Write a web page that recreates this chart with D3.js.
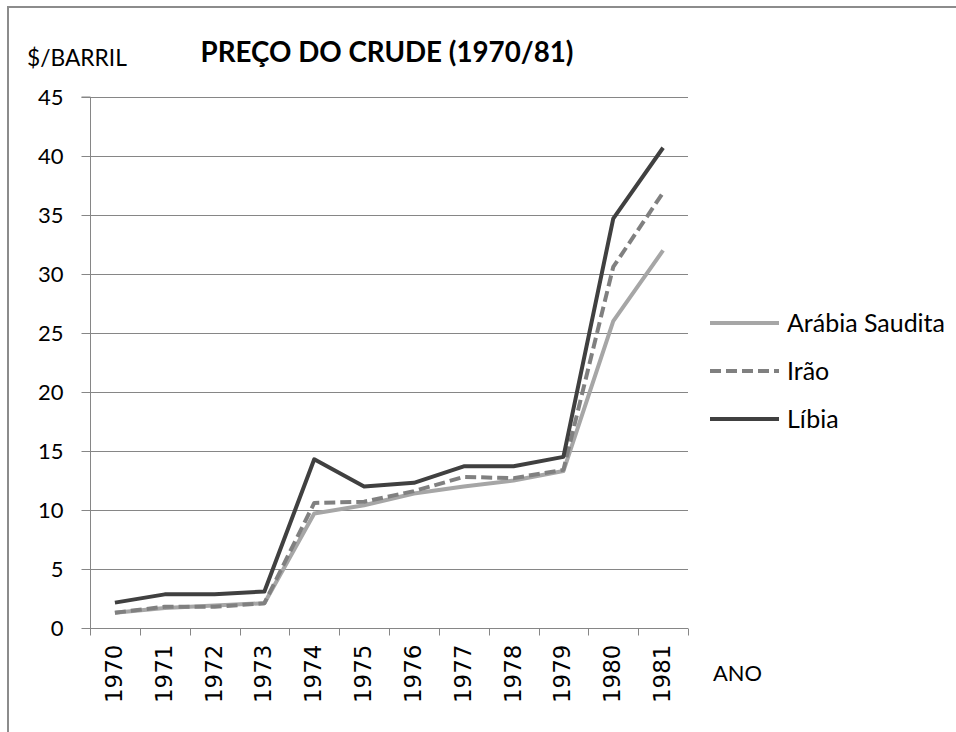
<!DOCTYPE html>
<html><head><meta charset="utf-8">
<script src="https://cdn.jsdelivr.net/npm/d3@7"></script>
<style>body{margin:0;background:#fff}svg{display:block}</style>
</head><body>
<svg id="c" width="956" height="732"></svg>
<script>
const years = ["1970","1971","1972","1973","1974","1975","1976","1977","1978","1979","1980","1981"];
const arabia = [1.3,1.7,1.9,2.1,9.7,10.4,11.4,12.0,12.5,13.3,26.0,32.0];
const irao   = [1.3,1.8,1.8,2.1,10.6,10.7,11.6,12.8,12.7,13.4,30.6,36.9];
const libia  = [2.15,2.85,2.85,3.1,14.3,12.0,12.3,13.7,13.7,14.5,34.7,40.7];
const seriesNames = ["Arábia Saudita","Irão","Líbia"];
const yTicks = [0,5,10,15,20,25,30,35,40,45];

const series = [
  {name: seriesNames[0], values: arabia, color: "#a6a6a6", dash: null},
  {name: seriesNames[1], values: irao, color: "#808080", dash: "11,5"},
  {name: seriesNames[2], values: libia, color: "#404040", dash: null}
];

const svg = d3.select("#c");
const fontMain = "Lato, 'Open Sans', sans-serif";
const x0 = 90, x1 = 688, yTop = 97, yBot = 628;

function fitSize(sel, target) {
  const s = parseFloat(sel.attr("font-size"));
  const w = sel.node().getComputedTextLength();
  return s * target / w;
}

// outer frame
svg.append("path").attr("d","M8,732 L8,7 L956,7").attr("fill","none")
  .attr("stroke","#8c8c8c").attr("stroke-width",2);

const x = d3.scaleBand().domain(years).range([x0, x1]);
const y = d3.scaleLinear().domain([0,45]).range([yBot, yTop]);

// gridlines
svg.append("g").selectAll("line").data(yTicks.filter(d=>d>0)).join("line")
  .attr("x1", x0).attr("x2", x1)
  .attr("y1", d=>Math.round(y(d))+0.5).attr("y2", d=>Math.round(y(d))+0.5)
  .attr("stroke","#868686").attr("stroke-width",1);

// y axis
const yAxis = d3.axisLeft(y).tickValues(yTicks).tickSize(9).tickPadding(18);
const gy = svg.append("g").attr("transform",`translate(${x0+0.5},0)`).call(yAxis);
gy.select(".domain").attr("stroke","#868686").attr("d",`M-9,${y(45)}H0V${y(0)}`);
gy.selectAll(".tick line").attr("stroke","#868686");
gy.selectAll(".tick text").attr("font-family",fontMain).attr("font-size",22).attr("fill","#000");

// x axis
const gx = svg.append("g").attr("transform",`translate(0,${yBot+0.5})`);
gx.append("line").attr("x1",x0).attr("x2",x1).attr("stroke","#868686");
const bounds = years.map(d=>x(d)).concat([x1]);
gx.selectAll("line.t").data(bounds).join("line").attr("class","t")
  .attr("x1",d=>Math.round(d)+0.5).attr("x2",d=>Math.round(d)+0.5).attr("y1",0).attr("y2",7)
  .attr("stroke","#868686");
gx.selectAll("text").data(years).join("text")
  .attr("transform", d=>`translate(${x(d)+x.bandwidth()/2+7},16) rotate(-90)`)
  .attr("text-anchor","end")
  .attr("font-family","'DejaVu Sans', sans-serif").attr("font-size",23).attr("fill","#000")
  .text(d=>d);

// lines
const line = d3.line().x((d,i)=>x(years[i])+x.bandwidth()/2).y(d=>y(d));
svg.append("g").selectAll("path").data(series).join("path")
  .attr("d", d=>line(d.values))
  .attr("fill","none").attr("stroke",d=>d.color).attr("stroke-width",4)
  .attr("stroke-dasharray",d=>d.dash).attr("stroke-linejoin","round");

// legend
const lg = svg.append("g").selectAll("g").data(series).join("g")
  .attr("transform",(d,i)=>`translate(710,${323+i*48})`);
lg.append("line").attr("x1",0).attr("x2",69).attr("stroke",d=>d.color).attr("stroke-width",4)
  .attr("stroke-dasharray",d=>d.dash);
const lt = lg.append("text").attr("x",77).attr("dy","0.35em").attr("font-family",fontMain)
  .attr("font-size",20).attr("fill","#000").text(d=>d.name);
lt.attr("font-size", fitSize(lt.filter((d,i)=>i===0), 158));

// titles
const title = svg.append("text").attr("x",387).attr("y",62).attr("text-anchor","middle")
  .attr("font-family",fontMain).attr("font-weight","bold").attr("font-size",24).attr("fill","#000")
  .text("PREÇO DO CRUDE (1970/81)");
title.attr("font-size", fitSize(title, 373));
const yl = svg.append("text").attr("x",27).attr("y",66)
  .attr("font-family",fontMain).attr("font-size",20).attr("fill","#000").text("$/BARRIL");
yl.attr("font-size", fitSize(yl, 100));
const xl = svg.append("text").attr("x",713).attr("y",681)
  .attr("font-family",fontMain).attr("font-size",20).attr("fill","#000").text("ANO");
xl.attr("font-size", fitSize(xl, 49));
</script>
</body></html>
